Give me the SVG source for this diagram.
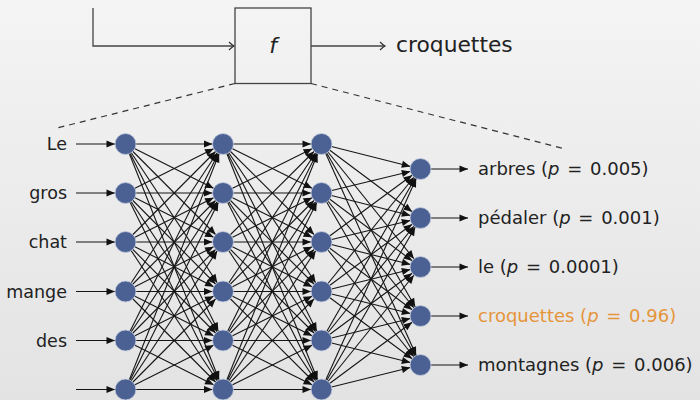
<svg xmlns="http://www.w3.org/2000/svg" width="700" height="400" viewBox="0 0 700 400">
<defs>
<linearGradient id="bg" x1="0" y1="0" x2="0" y2="1">
<stop offset="0" stop-color="#f4f4f4"/>
<stop offset="1" stop-color="#e3e3e3"/>
</linearGradient>
<marker id="ah" markerUnits="userSpaceOnUse" viewBox="-20 -6 22 12" markerWidth="22" markerHeight="12" refX="10.5" refY="0" orient="auto" overflow="visible">
<path d="M-8.5,-3.6 L0,0 L-8.5,3.6 z" fill="#111"/>
</marker>
<marker id="ah0" markerUnits="userSpaceOnUse" viewBox="-10 -6 12 12" markerWidth="12" markerHeight="12" refX="0" refY="0" orient="auto" overflow="visible">
<path d="M-8.5,-3.6 L0,0 L-8.5,3.6 z" fill="#111"/>
</marker>
<marker id="open" markerUnits="userSpaceOnUse" viewBox="-8 -5 10 10" markerWidth="10" markerHeight="10" refX="0" refY="0" orient="auto" overflow="visible">
<path d="M-5,-4 Q-2,-1 0,0 Q-2,1 -5,4" fill="none" stroke="#333" stroke-width="1.2"/>
</marker>
</defs>
<style>
.t{font-family:"DejaVu Sans","Liberation Sans",sans-serif;font-size:18px;fill:#222}
.m{font-style:italic}
.e line{stroke:#151515;stroke-width:1.1;marker-end:url(#ah)}
.e line.o{marker-end:url(#ah0)}
.n{fill:#4b6193;stroke:#c5cde0;stroke-width:0.8}
.dash{stroke:#333;stroke-width:1.2;stroke-dasharray:6 5;fill:none}
</style>
<rect x="0" y="0" width="700" height="400" fill="url(#bg)"/>

<g id="top">
<polyline points="93,8 93,46 234,46" fill="none" stroke="#444" stroke-width="1.3" marker-end="url(#open)"/>
<line x1="311" y1="46" x2="385" y2="46" stroke="#444" stroke-width="1.3" marker-end="url(#open)"/>
</g>
<g id="f-box">
<rect x="235" y="8" width="76" height="75.5" fill="none" stroke="#444" stroke-width="1.3"/>
<text x="273" y="53" text-anchor="middle" class="t m" style="font-size:22px">f</text>
</g>
<text id="out-top" x="396" y="52" class="t" style="font-size:21.8px">croquettes</text>
<line class="dash" x1="235" y1="83.5" x2="57" y2="128"/>
<line class="dash" x1="311" y1="83.5" x2="565" y2="149"/>

<g id="connectors" class="e">
<line x1="76" y1="144" x2="125.5" y2="144"/>
<line x1="76" y1="193" x2="125.5" y2="193"/>
<line x1="76" y1="242" x2="125.5" y2="242"/>
<line x1="76" y1="291.5" x2="125.5" y2="291.5"/>
<line x1="76" y1="340.5" x2="125.5" y2="340.5"/>
<line x1="76" y1="389.5" x2="125.5" y2="389.5"/>

<line x1="125.5" y1="144" x2="223" y2="144"/><line x1="125.5" y1="144" x2="223" y2="193"/><line x1="125.5" y1="144" x2="223" y2="242"/><line x1="125.5" y1="144" x2="223" y2="291.5"/><line x1="125.5" y1="144" x2="223" y2="340.5"/><line x1="125.5" y1="144" x2="223" y2="389.5"/>
<line x1="125.5" y1="193" x2="223" y2="144"/><line x1="125.5" y1="193" x2="223" y2="193"/><line x1="125.5" y1="193" x2="223" y2="242"/><line x1="125.5" y1="193" x2="223" y2="291.5"/><line x1="125.5" y1="193" x2="223" y2="340.5"/><line x1="125.5" y1="193" x2="223" y2="389.5"/>
<line x1="125.5" y1="242" x2="223" y2="144"/><line x1="125.5" y1="242" x2="223" y2="193"/><line x1="125.5" y1="242" x2="223" y2="242"/><line x1="125.5" y1="242" x2="223" y2="291.5"/><line x1="125.5" y1="242" x2="223" y2="340.5"/><line x1="125.5" y1="242" x2="223" y2="389.5"/>
<line x1="125.5" y1="291.5" x2="223" y2="144"/><line x1="125.5" y1="291.5" x2="223" y2="193"/><line x1="125.5" y1="291.5" x2="223" y2="242"/><line x1="125.5" y1="291.5" x2="223" y2="291.5"/><line x1="125.5" y1="291.5" x2="223" y2="340.5"/><line x1="125.5" y1="291.5" x2="223" y2="389.5"/>
<line x1="125.5" y1="340.5" x2="223" y2="144"/><line x1="125.5" y1="340.5" x2="223" y2="193"/><line x1="125.5" y1="340.5" x2="223" y2="242"/><line x1="125.5" y1="340.5" x2="223" y2="291.5"/><line x1="125.5" y1="340.5" x2="223" y2="340.5"/><line x1="125.5" y1="340.5" x2="223" y2="389.5"/>
<line x1="125.5" y1="389.5" x2="223" y2="144"/><line x1="125.5" y1="389.5" x2="223" y2="193"/><line x1="125.5" y1="389.5" x2="223" y2="242"/><line x1="125.5" y1="389.5" x2="223" y2="291.5"/><line x1="125.5" y1="389.5" x2="223" y2="340.5"/><line x1="125.5" y1="389.5" x2="223" y2="389.5"/>

<line x1="223" y1="144" x2="321.5" y2="144"/><line x1="223" y1="144" x2="321.5" y2="193"/><line x1="223" y1="144" x2="321.5" y2="242"/><line x1="223" y1="144" x2="321.5" y2="291.5"/><line x1="223" y1="144" x2="321.5" y2="340.5"/><line x1="223" y1="144" x2="321.5" y2="389.5"/>
<line x1="223" y1="193" x2="321.5" y2="144"/><line x1="223" y1="193" x2="321.5" y2="193"/><line x1="223" y1="193" x2="321.5" y2="242"/><line x1="223" y1="193" x2="321.5" y2="291.5"/><line x1="223" y1="193" x2="321.5" y2="340.5"/><line x1="223" y1="193" x2="321.5" y2="389.5"/>
<line x1="223" y1="242" x2="321.5" y2="144"/><line x1="223" y1="242" x2="321.5" y2="193"/><line x1="223" y1="242" x2="321.5" y2="242"/><line x1="223" y1="242" x2="321.5" y2="291.5"/><line x1="223" y1="242" x2="321.5" y2="340.5"/><line x1="223" y1="242" x2="321.5" y2="389.5"/>
<line x1="223" y1="291.5" x2="321.5" y2="144"/><line x1="223" y1="291.5" x2="321.5" y2="193"/><line x1="223" y1="291.5" x2="321.5" y2="242"/><line x1="223" y1="291.5" x2="321.5" y2="291.5"/><line x1="223" y1="291.5" x2="321.5" y2="340.5"/><line x1="223" y1="291.5" x2="321.5" y2="389.5"/>
<line x1="223" y1="340.5" x2="321.5" y2="144"/><line x1="223" y1="340.5" x2="321.5" y2="193"/><line x1="223" y1="340.5" x2="321.5" y2="242"/><line x1="223" y1="340.5" x2="321.5" y2="291.5"/><line x1="223" y1="340.5" x2="321.5" y2="340.5"/><line x1="223" y1="340.5" x2="321.5" y2="389.5"/>
<line x1="223" y1="389.5" x2="321.5" y2="144"/><line x1="223" y1="389.5" x2="321.5" y2="193"/><line x1="223" y1="389.5" x2="321.5" y2="242"/><line x1="223" y1="389.5" x2="321.5" y2="291.5"/><line x1="223" y1="389.5" x2="321.5" y2="340.5"/><line x1="223" y1="389.5" x2="321.5" y2="389.5"/>

<line x1="321.5" y1="144" x2="420.5" y2="169"/><line x1="321.5" y1="144" x2="420.5" y2="218"/><line x1="321.5" y1="144" x2="420.5" y2="267"/><line x1="321.5" y1="144" x2="420.5" y2="316"/><line x1="321.5" y1="144" x2="420.5" y2="365"/>
<line x1="321.5" y1="193" x2="420.5" y2="169"/><line x1="321.5" y1="193" x2="420.5" y2="218"/><line x1="321.5" y1="193" x2="420.5" y2="267"/><line x1="321.5" y1="193" x2="420.5" y2="316"/><line x1="321.5" y1="193" x2="420.5" y2="365"/>
<line x1="321.5" y1="242" x2="420.5" y2="169"/><line x1="321.5" y1="242" x2="420.5" y2="218"/><line x1="321.5" y1="242" x2="420.5" y2="267"/><line x1="321.5" y1="242" x2="420.5" y2="316"/><line x1="321.5" y1="242" x2="420.5" y2="365"/>
<line x1="321.5" y1="291.5" x2="420.5" y2="169"/><line x1="321.5" y1="291.5" x2="420.5" y2="218"/><line x1="321.5" y1="291.5" x2="420.5" y2="267"/><line x1="321.5" y1="291.5" x2="420.5" y2="316"/><line x1="321.5" y1="291.5" x2="420.5" y2="365"/>
<line x1="321.5" y1="340.5" x2="420.5" y2="169"/><line x1="321.5" y1="340.5" x2="420.5" y2="218"/><line x1="321.5" y1="340.5" x2="420.5" y2="267"/><line x1="321.5" y1="340.5" x2="420.5" y2="316"/><line x1="321.5" y1="340.5" x2="420.5" y2="365"/>
<line x1="321.5" y1="389.5" x2="420.5" y2="169"/><line x1="321.5" y1="389.5" x2="420.5" y2="218"/><line x1="321.5" y1="389.5" x2="420.5" y2="267"/><line x1="321.5" y1="389.5" x2="420.5" y2="316"/><line x1="321.5" y1="389.5" x2="420.5" y2="365"/>

<line class="o" x1="420.5" y1="169" x2="468" y2="169"/>
<line class="o" x1="420.5" y1="218" x2="468" y2="218"/>
<line class="o" x1="420.5" y1="267" x2="468" y2="267"/>
<line class="o" x1="420.5" y1="316" x2="468" y2="316"/>
<line class="o" x1="420.5" y1="365" x2="468" y2="365"/>
</g>

<g id="layer1">
<circle class="n" cx="125.5" cy="144" r="10.5"/><circle class="n" cx="125.5" cy="193" r="10.5"/><circle class="n" cx="125.5" cy="242" r="10.5"/><circle class="n" cx="125.5" cy="291.5" r="10.5"/><circle class="n" cx="125.5" cy="340.5" r="10.5"/><circle class="n" cx="125.5" cy="389.5" r="10.5"/>
</g>
<g id="layer2">
<circle class="n" cx="223" cy="144" r="10.5"/><circle class="n" cx="223" cy="193" r="10.5"/><circle class="n" cx="223" cy="242" r="10.5"/><circle class="n" cx="223" cy="291.5" r="10.5"/><circle class="n" cx="223" cy="340.5" r="10.5"/><circle class="n" cx="223" cy="389.5" r="10.5"/>
</g>
<g id="layer3">
<circle class="n" cx="321.5" cy="144" r="10.5"/><circle class="n" cx="321.5" cy="193" r="10.5"/><circle class="n" cx="321.5" cy="242" r="10.5"/><circle class="n" cx="321.5" cy="291.5" r="10.5"/><circle class="n" cx="321.5" cy="340.5" r="10.5"/><circle class="n" cx="321.5" cy="389.5" r="10.5"/>
</g>
<g id="layer4">
<circle class="n" cx="420.5" cy="169" r="10.5"/><circle class="n" cx="420.5" cy="218" r="10.5"/><circle class="n" cx="420.5" cy="267" r="10.5"/><circle class="n" cx="420.5" cy="316" r="10.5"/><circle class="n" cx="420.5" cy="365" r="10.5"/>
</g>

<g id="inputs" class="t" text-anchor="end" style="font-size:17.5px">
<text x="67" y="150">Le</text>
<text x="67" y="199">gros</text>
<text x="67" y="248">chat</text>
<text x="67" y="297.5">mange</text>
<text x="67" y="346.5">des</text>
</g>
<g id="outputs" class="t">
<text x="478" y="175">arbres (<tspan class="m">p</tspan><tspan dx="2"> =</tspan><tspan dx="2"> 0.005)</tspan></text>
<text x="478" y="224">pédaler (<tspan class="m">p</tspan><tspan dx="2"> =</tspan><tspan dx="2"> 0.001)</tspan></text>
<text x="478" y="273">le (<tspan class="m">p</tspan><tspan dx="2"> =</tspan><tspan dx="2"> 0.0001)</tspan></text>
<text x="478" y="322" style="fill:#e5953a">croquettes (<tspan class="m">p</tspan><tspan dx="2"> =</tspan><tspan dx="2"> 0.96)</tspan></text>
<text x="478" y="371">montagnes (<tspan class="m">p</tspan><tspan dx="2"> =</tspan><tspan dx="2"> 0.006)</tspan></text>
</g>
</svg>
